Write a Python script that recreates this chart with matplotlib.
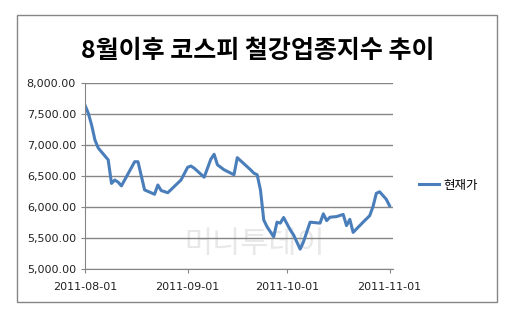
import matplotlib
matplotlib.use("Agg")
import matplotlib.pyplot as plt
import matplotlib.dates as mdates
from matplotlib.patches import Rectangle
import pandas as pd

plt.rcParams["font.family"] = ["DejaVu Sans", "Noto Sans CJK KR"]

dates = [
    "2011-08-01", "2011-08-02", "2011-08-03", "2011-08-04", "2011-08-05",
    "2011-08-08", "2011-08-09", "2011-08-10", "2011-08-11", "2011-08-12",
    "2011-08-16", "2011-08-17", "2011-08-19", "2011-08-22", "2011-08-23",
    "2011-08-24", "2011-08-26", "2011-08-30", "2011-09-01", "2011-09-02",
    "2011-09-03", "2011-09-06", "2011-09-08", "2011-09-09", "2011-09-10",
    "2011-09-12", "2011-09-15", "2011-09-16", "2011-09-20", "2011-09-21",
    "2011-09-22", "2011-09-23", "2011-09-24", "2011-09-25", "2011-09-27",
    "2011-09-28", "2011-09-29", "2011-09-30", "2011-10-02", "2011-10-03",
    "2011-10-05", "2011-10-06", "2011-10-08", "2011-10-11", "2011-10-12",
    "2011-10-13", "2011-10-14", "2011-10-16", "2011-10-18", "2011-10-19",
    "2011-10-20", "2011-10-21", "2011-10-24", "2011-10-26", "2011-10-27",
    "2011-10-28", "2011-10-29", "2011-10-31", "2011-11-01",
]
prices = [
    7640, 7510, 7320, 7080, 6950,
    6760, 6380, 6435, 6400, 6340,
    6730, 6730, 6275, 6205, 6355,
    6265, 6230, 6435, 6640, 6660,
    6625, 6480, 6770, 6850, 6680,
    6600, 6520, 6795, 6600, 6545,
    6520, 6275, 5790, 5680, 5520,
    5755, 5740, 5830, 5630, 5550,
    5320, 5440, 5755, 5740, 5890,
    5780, 5835, 5845, 5880, 5700,
    5800, 5590, 5755, 5860, 6005,
    6220, 6245, 6125, 6020,
]
x_ticks = ["2011-08-01", "2011-09-01", "2011-10-01", "2011-11-01"]
series_name = "현재가"
title = "8월이후 코스피 철강업종지수 추이"

fig = plt.figure(figsize=(5.2, 3.17), dpi=100)
fig.patches.append(Rectangle((0.033, 0.047), 0.923, 0.905, transform=fig.transFigure,
                             fill=False, edgecolor="#868686", linewidth=1))

ax = fig.add_axes([0.1635, 0.1514, 0.592, 0.587])
x = pd.to_datetime(dates)
line, = ax.plot(x, prices, color="#4A7EBB", linewidth=2.2, solid_joinstyle="round")

ax.set_ylim(5000, 8000)
ax.set_yticks(range(5000, 8001, 500))
ax.yaxis.set_major_formatter(plt.FuncFormatter(lambda v, p: f"{v:,.2f}"))
ax.set_xlim(pd.Timestamp("2011-08-01"), pd.Timestamp("2011-11-02"))
ax.set_xticks(pd.to_datetime(x_ticks))
ax.xaxis.set_major_formatter(mdates.DateFormatter("%Y-%m-%d"))

ax.grid(axis="y", color="#868686", linewidth=1)
ax.set_axisbelow(True)
for s in ["top", "right"]:
    ax.spines[s].set_visible(False)
for s in ["left", "bottom"]:
    ax.spines[s].set_color("#868686")
ax.tick_params(axis="both", colors="#868686", labelcolor="#222222", labelsize=8,
               length=3, direction="out")
ax.tick_params(axis="x", pad=6)

fig.text(0.495, 0.84, title, ha="center", va="center", fontsize=18, fontweight="bold",
         family=["Noto Sans CJK KR", "DejaVu Sans"])
# faint watermark
ax.text(0.55, 0.13, "머니투데이", transform=ax.transAxes, ha="center", va="center",
        fontsize=22, color="#e8e8e8", family=["Noto Sans CJK KR"], zorder=0)

ax.legend([line], [series_name], loc="center left", bbox_to_anchor=(0.785, 0.416),
          bbox_transform=fig.transFigure, frameon=False, handlelength=1.6,
          handletextpad=0.3, prop={"family": "Noto Sans CJK KR", "size": 9})

fig.savefig("out.png", dpi=100)
